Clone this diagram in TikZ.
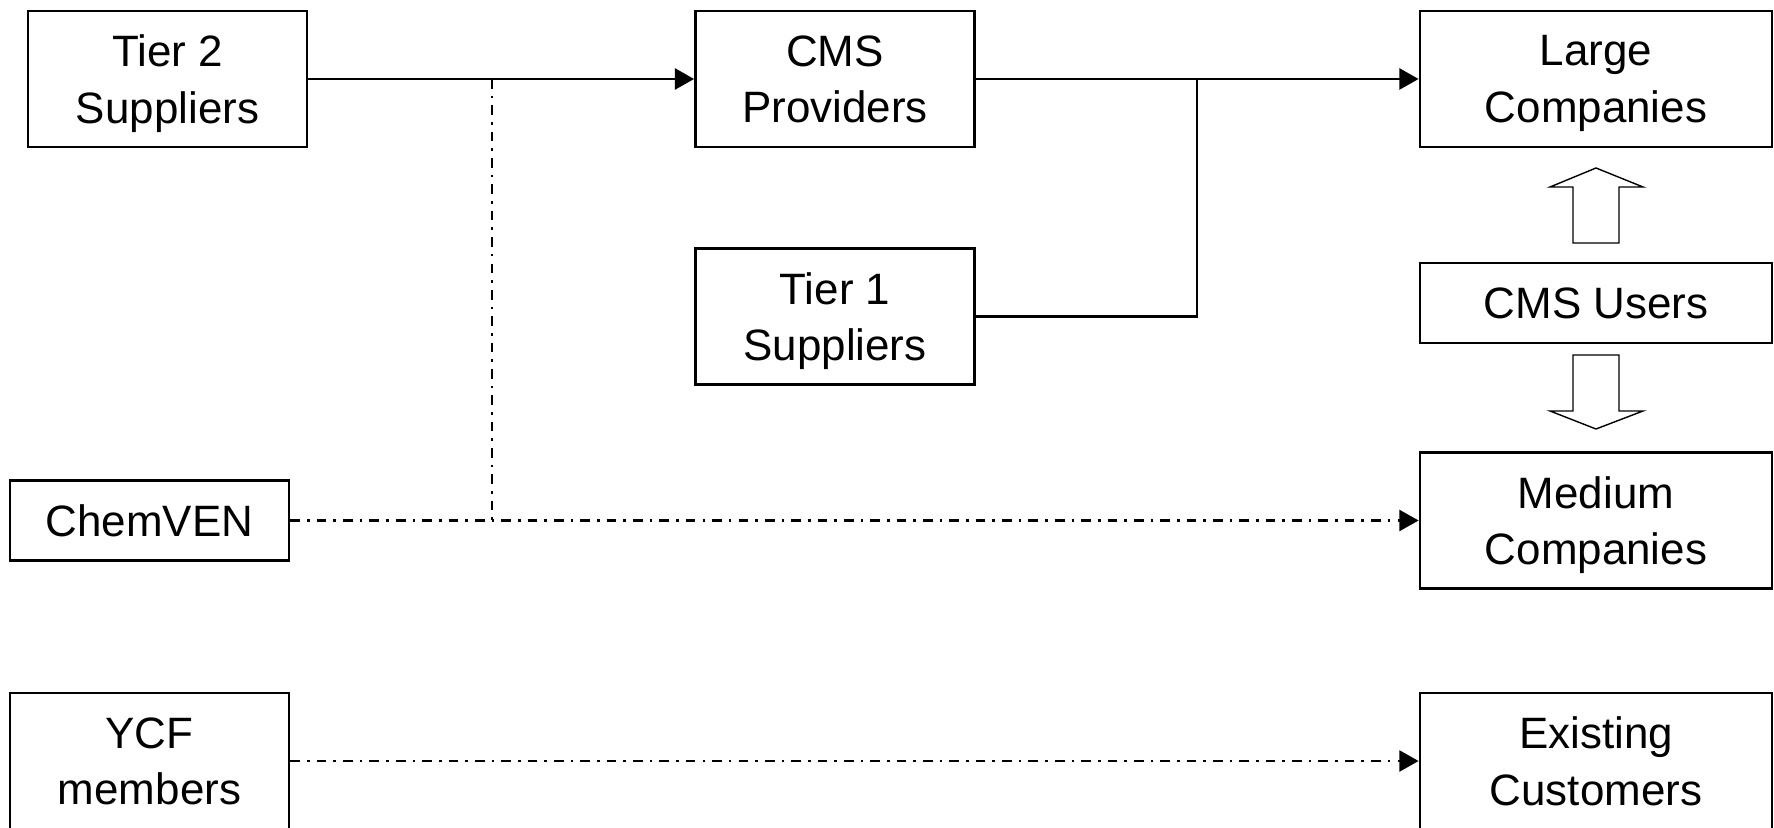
\documentclass[tikz,border=0pt]{standalone}
\usepackage{fontspec}
\setmainfont{Liberation Sans}
\usetikzlibrary{arrows.meta}

\tikzset{
  box/.style={rectangle, draw, line width=1.6pt, align=center, minimum width=5.58cm, minimum height=2.72cm, inner sep=0pt, text depth=0pt, font=\fontsize{25}{32}\selectfont},
  widebox/.style={box, minimum width=7.04cm},
  flowtip/.style={-{Triangle[length=11pt,width=12pt]}},
  link/.style={line width=1.5pt},
  dashdot/.style={line width=1.4pt, dash pattern=on 5.5pt off 4pt on 1.5pt off 4pt},
  blockarrow/.style={draw, line width=0.8pt, fill=white, line join=miter}
}

\begin{document}
\begin{tikzpicture}
                    \useasboundingbox (0,0) rectangle (35.48,16.54);

                    % Suppliers and providers
                    \node[box] (tier2) at (3.35,14.96) {Tier 2\\Suppliers};
                    \node[box] (cmsp) at (16.7,14.96) {CMS\\Providers};
                    \node[box] (tier1) at (16.7,10.21) {Tier 1\\Suppliers};

                    % Networks
                    \node[box, minimum height=1.6cm] (chemven) at (2.99,6.13) {ChemVEN};
                    \node[box] (ycf) at (2.99,1.32) {YCF\\members};

                    % Companies
                    \node[widebox] (large) at (31.92,14.96) {Large\\Companies};
                    \node[widebox, minimum height=1.6cm] (cmsu) at (31.92,10.48) {CMS Users};
                    \node[widebox] (medium) at (31.92,6.13) {Medium\\Companies};
                    \node[widebox] (existing) at (31.92,1.32) {Existing\\Customers};

                    % Supply chain
                    \coordinate (join) at (23.94,14.96);
                    \draw[link, flowtip] (tier2) -- (cmsp);
                    \draw[link, flowtip] (cmsp) -- (large);
                    \draw[link] (tier1) -| (join);

                    % Network links
                    \coordinate (split) at (9.84,14.96);
                    \coordinate (merge) at (9.84,6.13);
                    \draw[dashdot] (split) -- (merge);
                    \draw[dashdot, flowtip] (chemven) -- (medium);
                    \draw[dashdot, flowtip] (ycf) -- (existing);

                    % CMS users up and down
                    \draw[blockarrow] (31.46,11.68) -- (31.46,12.8) -- (31.0,12.8) -- (31.92,13.18) -- (32.86,12.8) -- (32.38,12.8) -- (32.38,11.68) -- cycle;
                    \draw[blockarrow] (31.46,9.44) -- (31.46,8.32) -- (31.0,8.32) -- (31.92,7.96) -- (32.86,8.32) -- (32.38,8.32) -- (32.38,9.44) -- cycle;
\end{tikzpicture}
\end{document}
